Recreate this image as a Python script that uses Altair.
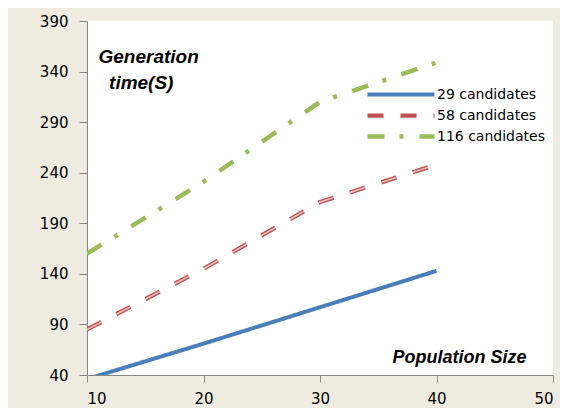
import altair as alt
import pandas as pd

# ---- data ----
population = [10, 20, 30, 40]
series_names = ["29 candidates", "58 candidates", "116 candidates"]
time_29 = [36, 71, 107, 143]
time_58 = [85, 145, 211, 248]
time_116 = [160, 231, 310, 349]
x_ticks = [10, 20, 30, 40, 50]
y_ticks = [40, 90, 140, 190, 240, 290, 340, 390]

rows = []
for name, vals in zip(series_names, [time_29, time_58, time_116]):
    for p, v in zip(population, vals):
        rows.append({"series": name, "pop": p, "time": v})
df = pd.DataFrame(rows)

colors = ["#4A7EBB", "#C0504D", "#9BBB59"]
dashes = [[1, 0], [16, 17], [17, 15, 4, 16]]
widths = [4, 4.5, 5]

x_enc = alt.X(
    "pop:Q",
    scale=alt.Scale(domain=[10, 50], nice=False, zero=False),
    axis=alt.Axis(
        values=x_ticks,
        tickSize=7,
        labelPadding=9,
        title="Population Size",
        titleX=439,
        titleY=-13,
        titleAlign="right",
        titleBaseline="alphabetic",
        titleFont="Liberation Sans",
        titleFontSize=18,
        titleFontStyle="italic",
        titleFontWeight="bold",
        titleColor="#000000",
    ),
)
y_enc = alt.Y(
    "time:Q",
    scale=alt.Scale(domain=[40, 390], nice=False, zero=False),
    axis=alt.Axis(
        values=y_ticks,
        tickSize=8,
        labelPadding=11,
        title=["Generation", "\u200b\u00a0\u00a0time(S)"],
        titleAngle=0,
        titleX=11,
        titleY=41,
        titleAlign="left",
        titleBaseline="alphabetic",
        titleFont="Liberation Sans",
        titleFontSize=19,
        titleFontStyle="italic",
        titleFontWeight="bold",
        titleLineHeight=26,
        titleColor="#000000",
    ),
)

legend = alt.Legend(
    title=None,
    orient="none",
    legendX=278,
    legendY=63,
    symbolType="stroke",
    symbolSize=4489,
    symbolStrokeWidth=4,
    clipHeight=21,
    labelFont="DejaVu Sans",
    labelFontSize=14,
    labelColor="#000000",
    rowPadding=0,
    labelOffset=0,
)

base = alt.Chart(df)

lines = base.mark_line(clip=True, strokeCap="butt").encode(
    x=x_enc,
    y=y_enc,
    color=alt.Color("series:N", scale=alt.Scale(domain=series_names, range=colors), legend=legend),
    strokeDash=alt.StrokeDash("series:N", scale=alt.Scale(domain=series_names, range=dashes), legend=legend),
    strokeWidth=alt.StrokeWidth("series:N", scale=alt.Scale(domain=series_names, range=widths), legend=None),
    order="pop:Q",
)

inner = base.transform_filter(alt.datum.series == "58 candidates").mark_line(
    clip=True, strokeCap="butt", color="#F2C4C3", strokeWidth=1.5, strokeDash=[16, 17]
).encode(x="pop:Q", y="time:Q", order="pop:Q")

chart = (
    alt.layer(lines, inner)
    .properties(
        width=466,
        height=354,
        autosize=alt.AutoSizeParams(type="none"),
        padding={"left": 79, "top": 13, "right": 7, "bottom": 33},
        background="#EEECE1",
    )
    .configure_view(fill="#FFFFFF", strokeWidth=0)
    .configure_axis(
        grid=False,
        domainColor="#868686",
        tickColor="#868686",
        labelFont="DejaVu Sans",
        labelFontSize=15,
        labelColor="#000000",
    )
)

chart.save("out.html", embed_options={"renderer": "svg", "actions": False})
